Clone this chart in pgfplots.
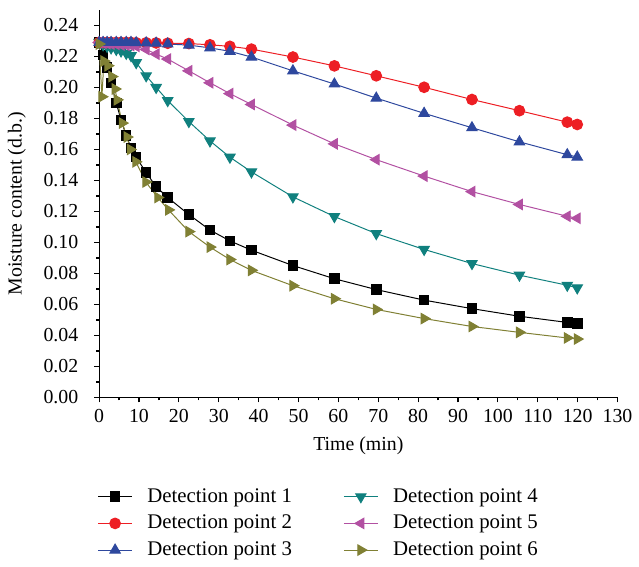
\documentclass[border=0pt]{standalone}
\usepackage{fontspec}
\setmainfont{Liberation Serif}
\usepackage{pgfplots}
\pgfplotsset{compat=1.18}
\definecolor{cA}{RGB}{0,0,0}
\definecolor{cB}{RGB}{237,30,36}
\definecolor{cC}{RGB}{46,72,158}
\definecolor{cD}{RGB}{16,128,126}
\definecolor{cE}{RGB}{178,80,162}
\definecolor{cF}{RGB}{128,128,52}
\begin{document}
\begin{tikzpicture}
\begin{axis}[
  name=main,
  scale only axis,
  width=261.5pt, height=195.5pt,
  xmin=0, xmax=130, ymin=0, ymax=0.25,
  axis lines=left, axis line style={-, line width=0.6pt},
  xtick={0,10,...,130},
  ytick={0,0.02,0.04,0.06,0.08,0.10,0.12,0.14,0.16,0.18,0.20,0.22,0.24},
  minor x tick num=1, minor y tick num=1,
  tick align=outside,
  major tick length=2.5pt, minor tick length=1.5pt,
  tick style={line width=0.6pt, black},
  /pgf/number format/assume math mode=true,
  yticklabel style={xshift=-4.5pt, /pgf/number format/.cd, fixed, fixed zerofill, precision=2},
  xticklabel style={/pgf/number format/.cd, fixed, precision=0},
  xlabel={Time (min)}, ylabel={Moisture content (d.b.)},
  ylabel shift=2pt,
  every axis plot/.append style={line width=0.5pt},
  legend columns=2,
  legend cell align=left,
  legend style={at={(-0.015,-0.213)}, anchor=north west, draw=none, font=\rmfamily\fontsize{10.5}{12}\selectfont,
    row sep=1pt,
    /tikz/column 1/.style={column sep=5.5pt},
    /tikz/column 2/.style={column sep=24pt},
    /tikz/column 3/.style={column sep=5.5pt}},
]
\addplot[cA, mark=square*, mark size=2.4pt] coordinates {
(0,0.229)(1,0.221)(2,0.213)(3,0.203)(4.3,0.190)(5.5,0.179)(6.8,0.169)(8,0.161)(9.3,0.155)(11.8,0.145)(14.3,0.136)(17.2,0.129)(22.5,0.118)(27.8,0.108)(32.8,0.101)(38.2,0.095)(48.6,0.0851)(59,0.0766)(69.5,0.0696)(81.5,0.0628)(93.5,0.0573)(105.4,0.0524)(117.4,0.0484)(119.9,0.0477)};
\addlegendentry{Detection point 1}
\addplot[cD, mark=triangle*, mark options={rotate=180}, mark size=3pt] coordinates {
(0,0.229)(1,0.2275)(2,0.2265)(3,0.2255)(4.3,0.2245)(5.5,0.2235)(6.8,0.222)(8,0.2205)(9.3,0.216)(11.8,0.2075)(14.3,0.200)(17.2,0.1915)(22.5,0.178)(27.8,0.1655)(32.8,0.155)(38.2,0.1455)(48.6,0.1294)(59,0.1167)(69.5,0.1057)(81.5,0.0955)(93.5,0.0864)(105.4,0.0789)(117.4,0.0724)(119.9,0.0707)};
\addlegendentry{Detection point 4}
\addplot[cB, mark=*, mark size=2.7pt] coordinates {
(0,0.229)(1,0.229)(2,0.229)(3,0.229)(4.3,0.229)(5.5,0.229)(6.8,0.229)(8,0.229)(9.3,0.2288)(11.8,0.2288)(14.3,0.2287)(17.2,0.2285)(22.5,0.2283)(27.8,0.2275)(32.8,0.2265)(38.2,0.2247)(48.6,0.2196)(59,0.2139)(69.5,0.2075)(81.5,0.2001)(93.5,0.1922)(105.4,0.1850)(117.4,0.1776)(119.9,0.1761)};
\addlegendentry{Detection point 2}
\addplot[cE, mark=triangle*, mark options={rotate=90}, mark size=3pt] coordinates {
(0,0.229)(1,0.2285)(2,0.2283)(3,0.228)(4.3,0.2278)(5.5,0.2275)(6.8,0.2272)(8,0.227)(9.3,0.2265)(11.8,0.2245)(14.3,0.2215)(17.2,0.2183)(22.5,0.2107)(27.8,0.203)(32.8,0.196)(38.2,0.189)(48.6,0.1757)(59,0.1636)(69.5,0.1534)(81.5,0.1428)(93.5,0.1328)(105.4,0.1245)(117.4,0.1169)(119.9,0.1156)};
\addlegendentry{Detection point 5}
\addplot[cC, mark=triangle*, mark size=3pt] coordinates {
(0,0.229)(1,0.229)(2,0.229)(3,0.229)(4.3,0.229)(5.5,0.229)(6.8,0.229)(8,0.229)(9.3,0.2288)(11.8,0.2287)(14.3,0.2285)(17.2,0.228)(22.5,0.2273)(27.8,0.2255)(32.8,0.2233)(38.2,0.2196)(48.6,0.2107)(59,0.2022)(69.5,0.1931)(81.5,0.1833)(93.5,0.1740)(105.4,0.1649)(117.4,0.1566)(119.9,0.1551)};
\addlegendentry{Detection point 3}
\addplot[cF, mark=triangle*, mark options={rotate=-90}, mark size=3pt] coordinates {
(0,0.228)(0.7,0.194)(1.2,0.217)(2.2,0.214)(3.2,0.207)(4,0.199)(4.5,0.192)(5.8,0.177)(7,0.168)(7.8,0.160)(9.2,0.152)(11.7,0.139)(14.7,0.129)(17.4,0.121)(22.5,0.107)(27.8,0.097)(32.8,0.089)(38.2,0.082)(48.6,0.0721)(59,0.0637)(69.5,0.0568)(81.5,0.0509)(93.5,0.0458)(105.4,0.0420)(117.4,0.0384)(119.9,0.0377)};
\addlegendentry{Detection point 6}
\end{axis}
\path ([yshift=5pt]main.north west) ([xshift=-50pt]main.west);
\end{tikzpicture}
\end{document}
